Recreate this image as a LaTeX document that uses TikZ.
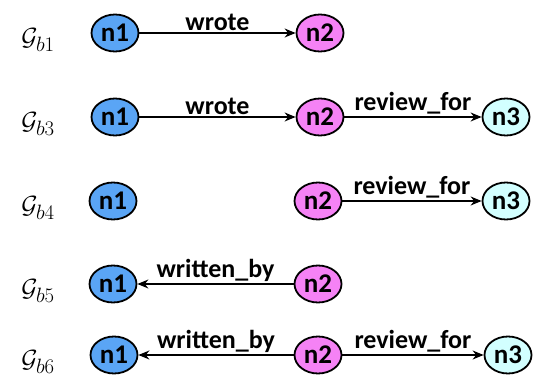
\documentclass[tikz,border=0pt]{standalone}
\usepackage{fontspec}
\setsansfont{Carlito}
\usetikzlibrary{shapes.geometric,arrows.meta}
\definecolor{cA}{RGB}{90,165,245}
\definecolor{cB}{RGB}{245,130,245}
\definecolor{cC}{RGB}{210,255,255}
\tikzset{
  gnode/.style={ellipse,draw=black,line width=1.8pt,minimum width=47pt,minimum height=37pt,inner sep=0pt,
    font=\sffamily\bfseries\fontsize{27}{27}\selectfont},
  na/.style={gnode,fill=cA},
  nb/.style={gnode,fill=cB},
  nc/.style={gnode,fill=cC},
  edge/.style={line width=1.4pt,-{Stealth[length=11pt,width=9pt]}},
  elab/.style={font=\sffamily\bfseries\fontsize{26}{26}\selectfont,above,inner sep=2pt},
  glab/.style={font=\fontsize{30}{30}\selectfont}
}
\begin{document}
\begin{tikzpicture}[x=1pt,y=-1pt]
\useasboundingbox (0,0) rectangle (533,382);
% row 1
\node[glab] (g1) at (38,40) {$\mathcal{G}_{b1}$};
\node[na] (a1) at (115,33) {n1};
\node[nb] (b1) at (320,33) {n2};
\draw[edge] (a1) -- node[elab] {wrote} (b1);
% row 2
\node[glab] (g2) at (38,124) {$\mathcal{G}_{b3}$};
\node[na] (a2) at (115,117) {n1};
\node[nb] (b2) at (320,117) {n2};
\node[nc] (c2) at (506,117) {n3};
\draw[edge] (a2) -- node[elab] {wrote} (b2);
\draw[edge] (b2) -- node[elab] {review\_for} (c2);
% row 3
\node[glab] (g3) at (38,208) {$\mathcal{G}_{b4}$};
\node[na] (a3) at (113,201) {n1};
\node[nb] (b3) at (318,201) {n2};
\node[nc] (c3) at (506,201) {n3};
\draw[edge] (b3) -- node[elab] {review\_for} (c3);
% row 4
\node[glab] (g4) at (38,291) {$\mathcal{G}_{b5}$};
\node[na] (a4) at (113,284) {n1};
\node[nb] (b4) at (318,284) {n2};
\draw[edge] (b4) -- node[elab] {written\_by} (a4);
% row 5
\node[glab] (g5) at (38,362) {$\mathcal{G}_{b6}$};
\node[na] (a5) at (114,355) {n1};
\node[nb] (b5) at (318,355) {n2};
\node[nc] (c5) at (508,355) {n3};
\draw[edge] (b5) -- node[elab] {written\_by} (a5);
\draw[edge] (b5) -- node[elab] {review\_for} (c5);
\end{tikzpicture}
\end{document}
